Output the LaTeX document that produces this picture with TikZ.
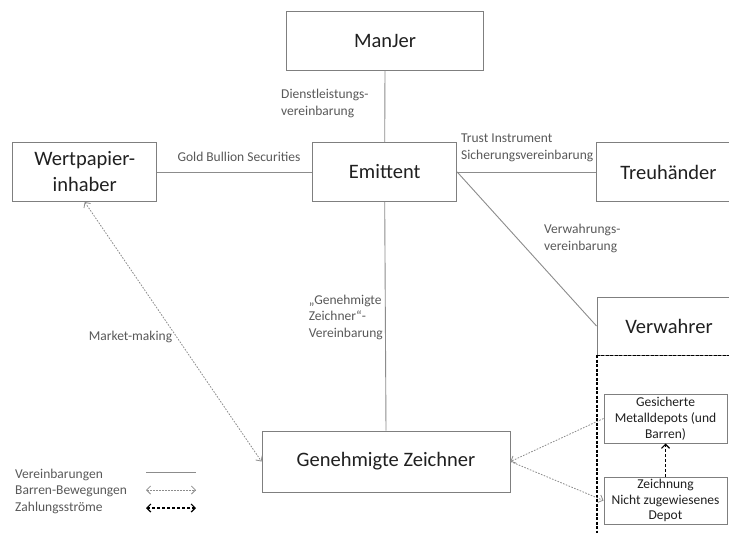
\documentclass[tikz,border=0pt]{standalone}
\usepackage{fontspec}
\setmainfont{Carlito}
\usetikzlibrary{arrows.meta}
\definecolor{boxline}{HTML}{7F7F7F}
\definecolor{conn}{HTML}{8C8C8C}
\definecolor{bigtext}{HTML}{202020}
\definecolor{lbltext}{HTML}{595959}
\tikzset{
  bigbox/.style={draw=boxline, line width=1pt, fill=white, inner sep=2pt,
    font=\fontsize{20.5}{26}\selectfont, text=bigtext, align=center},
  smallbox/.style={draw=boxline, line width=1pt, fill=white, inner sep=1pt,
    minimum width=123pt, font=\fontsize{13.5}{15.8}\selectfont, text=bigtext, align=center},
  lbl/.style={font=\fontsize{13.5}{16.5}\selectfont, text=lbltext, inner sep=0pt},
  agree/.style={draw=conn, line width=0.9pt},
  gtip/.tip={Straight Barb[length=4pt,width=8pt,line width=0.8pt]},
  btip/.tip={Straight Barb[length=4pt,width=8pt,line width=1.2pt]},
  barren/.style={draw=conn, line width=0.8pt, dash pattern=on 1.6pt off 1.4pt, -gtip},
  barrenboth/.style={barren, gtip-gtip},
  zahlung/.style={draw=black, line width=1.3pt, dash pattern=on 3pt off 2pt, -btip},
  zahlungboth/.style={zahlung, btip-btip},
  container/.style={draw=black, line width=1.2pt, dash pattern=on 3pt off 1.5pt}
}
\begin{document}
\begin{tikzpicture}[x=1pt,y=-1pt]
\useasboundingbox (0,0) rectangle (729,533);
\fill[white] (0,0) rectangle (729,533);
\clip (0,0) rectangle (729,533);

% boxes
\node[bigbox, minimum width=196.5pt, minimum height=59pt] (mj) at (385,40.5) {ManJer};
\node[bigbox, minimum width=144.5pt, minimum height=59pt] (wp) at (84.7,172) {Wertpapier-\\inhaber};
\node[bigbox, minimum width=144pt, minimum height=59pt] (em) at (384.7,172) {Emittent};
\node[bigbox, minimum width=145pt, minimum height=59pt] (tr) at (668.5,172) {Treuhänder};
\node[bigbox, minimum width=248pt, minimum height=61pt] (gz) at (386,461.5) {Genehmigte Zeichner};

% container under Verwahrer
\coordinate (ctl) at (597,355);
\coordinate (cbr) at (780,580);
\draw[container] (ctl) rectangle (cbr);
\node[bigbox, minimum width=144pt, minimum height=58pt] (vw) at (669,326) {Verwahrer};
\draw[container] (vw.south west) -- (vw.south east);

\node[smallbox, minimum height=49pt] (gm) at (665.5,418.5) {Gesicherte\\Metalldepots (und\\Barren)};
\node[smallbox, minimum height=47pt] (zn) at (665.5,500.5) {Zeichnung\\Nicht zugewiesenes\\Depot};

% agreements
\draw[agree] (mj.south) -- (em.north);
\draw[agree] (wp.east) -- (em.west);
\draw[agree] (em.east) -- (tr.west);
\draw[agree] (em.south) -- (gz.north);
\draw[agree] (em.east) -- (vw.west);

% bar movements
\draw[barrenboth] (wp.south) -- (gz.west);
\draw[barren] (gm.west) -- (gz.east);
\draw[barren] (gz.east) -- (zn.west);

% payment
\draw[zahlung] (zn.north) -- (gm.south);

% labels
\node[lbl, align=left, anchor=west] (l1) at (281,103.5) {Dienstleistungs-\\vereinbarung};
\node[lbl] (l2) at (239,157) {Gold Bullion Securities};
\node[lbl, align=left, anchor=west] (l3) at (461,148) {Trust Instrument\\Sicherungsvereinbarung};
\node[lbl, align=left, anchor=west] (l4) at (544,238.5) {Verwahrungs-\\vereinbarung};
\node[lbl, align=left, anchor=west] (l5) at (308.6,317) {„Genehmigte\\Zeichner“-\\Vereinbarung};
\node[lbl] (l6) at (130.5,337) {Market-making};

% legend
\node[lbl, anchor=west] (lg1) at (15,475) {Vereinbarungen};
\node[lbl, anchor=west] (lg2) at (15,491.5) {Barren-Bewegungen};
\node[lbl, anchor=west] (lg3) at (15,508) {Zahlungsströme};
\coordinate (a1) at (146,472); \coordinate (b1) at (196,472);
\coordinate (a2) at (146,490); \coordinate (b2) at (196,490);
\coordinate (a3) at (146,508); \coordinate (b3) at (196,508);
\draw[agree] (a1) -- (b1);
\draw[barrenboth] (a2) -- (b2);
\draw[zahlungboth] (a3) -- (b3);
\end{tikzpicture}
\end{document}
